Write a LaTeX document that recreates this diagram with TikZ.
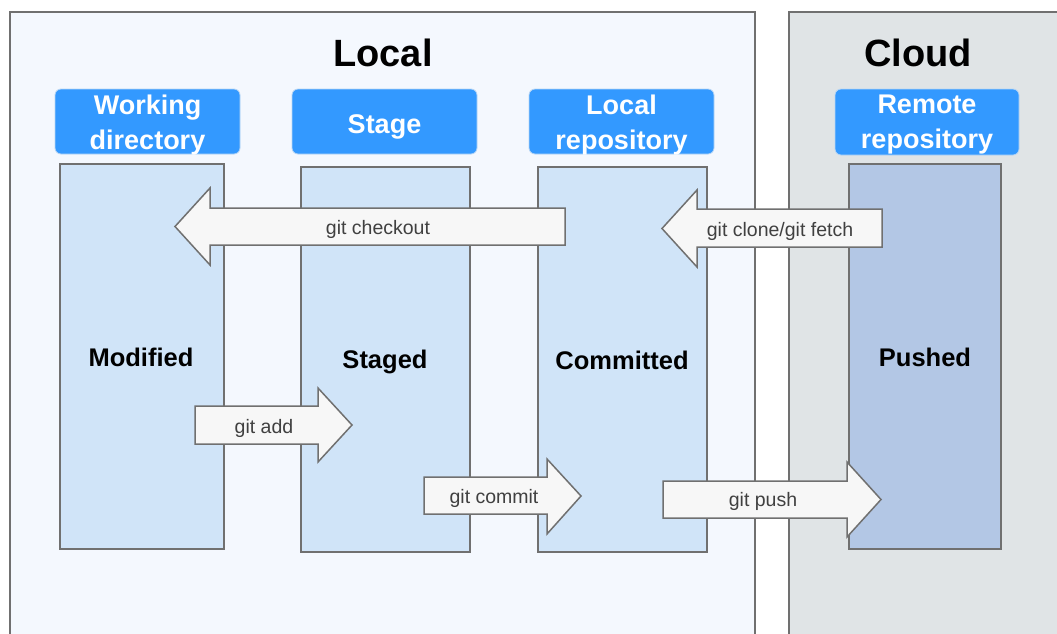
\documentclass[tikz,border=0pt]{standalone}
\usepackage{fontspec}
\setmainfont{Liberation Sans}
\definecolor{edgegray}{HTML}{707070}
\definecolor{localbg}{HTML}{F4F8FE}
\definecolor{cloudbg}{HTML}{E0E4E6}
\definecolor{headblue}{HTML}{3399FF}
\definecolor{headedge}{HTML}{B8D6F5}
\definecolor{colblue}{HTML}{D0E4F8}
\definecolor{remoteblue}{HTML}{B3C7E5}
\definecolor{arrowfill}{HTML}{F7F7F7}
\definecolor{labelgray}{HTML}{404040}
\begin{document}
\begin{tikzpicture}[x=1pt,y=-1pt,
  panel/.style={draw=edgegray,line width=1.5pt},
  title/.style={font=\fontsize{38}{44}\selectfont\bfseries,text=black},
  header/.style={fill=headblue,draw=headedge,line width=0.8pt,rounded corners=6pt},
  headtext/.style={font=\fontsize{27}{35}\selectfont\bfseries,text=white,align=center,inner sep=0pt},
  column/.style={draw=edgegray,line width=1.5pt},
  state/.style={font=\fontsize{25.5}{30}\selectfont\bfseries,text=black,inner sep=0pt},
  arrowbox/.style={draw=edgegray,fill=arrowfill,line width=1.5pt,line join=miter},
  cmd/.style={font=\fontsize{19.5}{24}\selectfont,text=labelgray,inner sep=0pt}]
\clip (0,0) rectangle (1057,633);
\fill[white] (0,0) rectangle (1057,633);
% panels
\draw[panel,fill=localbg] (10,12) rectangle (755,660);
\draw[panel,fill=cloudbg] (789,12) rectangle (1080,660);
\node[title] (tlocal) at (383,53) {Local};
\node[title] (tcloud) at (918,53) {Cloud};
% headers
\draw[header] (55,89) rectangle (240,154);
\node[headtext] (hwork) at (147.5,125) {Working\\directory};
\draw[header] (292,89) rectangle (477,154);
\node[headtext] (hstage) at (384.5,127) {Stage};
\draw[header] (529,89) rectangle (714,154);
\node[headtext] (hlocal) at (621.5,125) {Local\\repository};
\draw[header] (835,89) rectangle (1019,155);
\node[headtext] (hremote) at (927,125) {Remote\\repository};
% columns
\draw[column,fill=colblue] (60,164) rectangle (224,549);
\draw[column,fill=colblue] (301,167) rectangle (470,552);
\draw[column,fill=colblue] (538,167) rectangle (707,552);
\draw[column,fill=remoteblue] (849,164) rectangle (1001,549);
\node[state] (smod) at (141,357) {Modified};
\node[state] (sstaged) at (385,362) {Staged};
\node[state] (scomm) at (622,360) {Committed};
\node[state] (spush) at (925,357) {Pushed};
% arrows
\draw[arrowbox] (565,208) -- (210,208) -- (210,188) -- (175,226.5) -- (210,265) -- (210,245) -- (565,245) -- cycle;
\node[cmd] (lcheckout) at (378,229.5) {git checkout};
\draw[arrowbox] (882,209) -- (697,209) -- (697,190) -- (662,228.5) -- (697,267) -- (697,247) -- (882,247) -- cycle;
\node[cmd] (lclone) at (780,231.5) {git clone/git fetch};
\draw[arrowbox] (195,406) -- (318,406) -- (318,388) -- (352,425) -- (318,462) -- (318,444) -- (195,444) -- cycle;
\node[cmd] (ladd) at (264,428.5) {git add};
\draw[arrowbox] (424,477) -- (547,477) -- (547,459) -- (581,496) -- (547,534) -- (547,514) -- (424,514) -- cycle;
\node[cmd] (lcommit) at (494,498.5) {git commit};
\draw[arrowbox] (663,481) -- (847,481) -- (847,462) -- (881,499.5) -- (847,537) -- (847,518) -- (663,518) -- cycle;
\node[cmd] (lpush) at (763,501.5) {git push};
\end{tikzpicture}
\end{document}
